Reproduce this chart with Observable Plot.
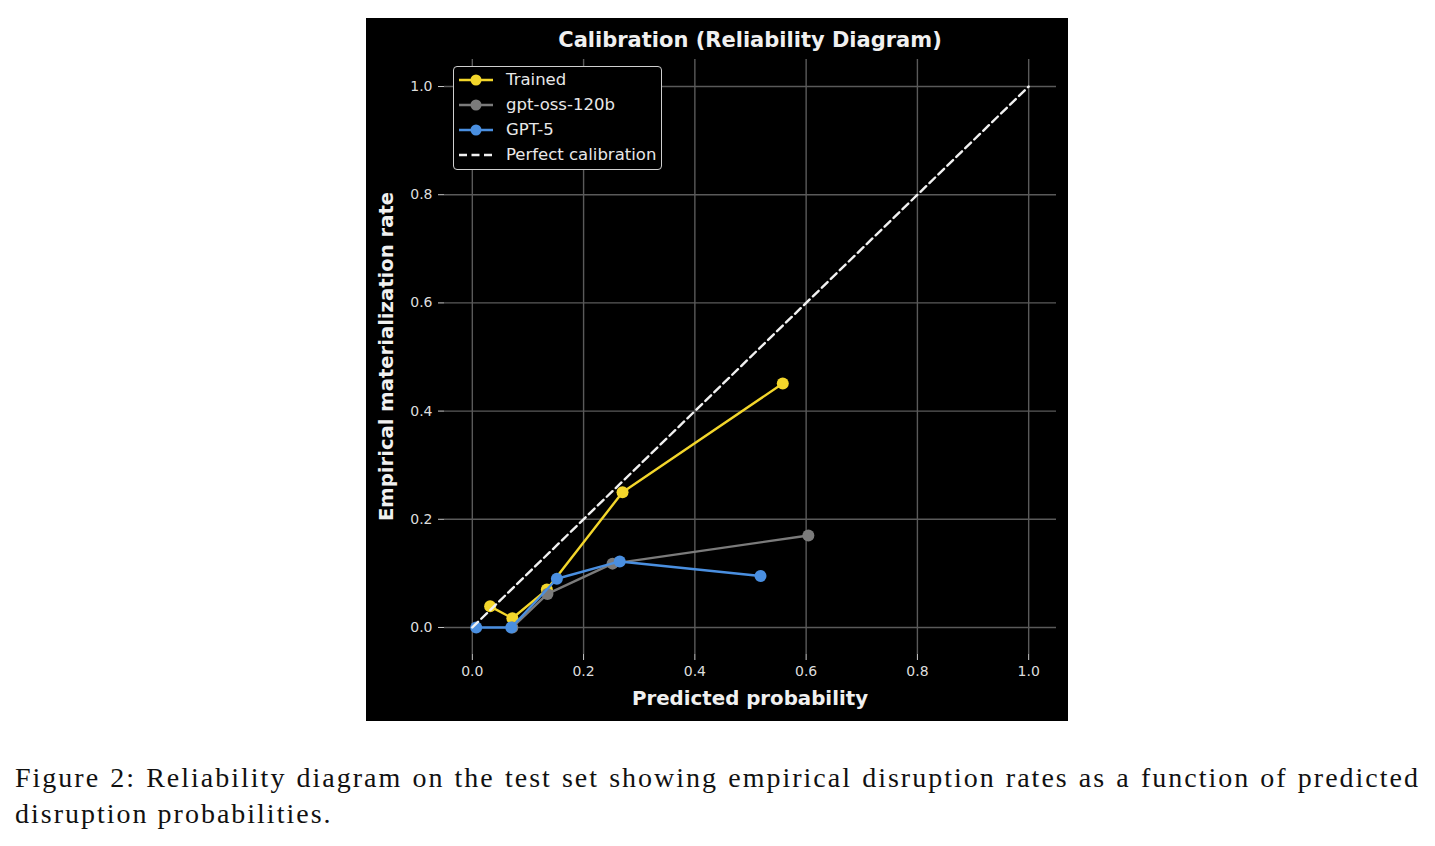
<!DOCTYPE html>
<html>
<head>
<meta charset="utf-8">
<script src="https://cdn.jsdelivr.net/npm/d3@7"></script>
<script src="https://cdn.jsdelivr.net/npm/@observablehq/plot@0.6"></script>
<style>
  html, body { margin: 0; padding: 0; background: #ffffff; }
  #page { position: relative; width: 1435px; height: 846px; }
  #panel { position: absolute; left: 366px; top: 18px; width: 702px; height: 703px; background: #000; }
  #panel svg { display: block; }
  #legend {
    position: absolute; left: 87px; top: 48px;
    width: 209px; height: 104px; box-sizing: border-box;
    border: 1.5px solid #cfcfcf; border-radius: 4px; background: #000;
    font-family: "DejaVu Sans", sans-serif; font-size: 16.5px; color: #e8e8e8;
    padding-top: 0px;
  }
  #legend .row { display: flex; align-items: center; height: 25px; }
  #legend svg { margin-left: 4px; margin-right: 12px; }
  #caption {
    position: absolute; left: 15px; top: 760px; width: 1405px;
    font-family: "Liberation Serif", "DejaVu Serif", serif; font-size: 28px; line-height: 36px;
    letter-spacing: 2px; color: #111;
  }
  #caption .l1 { text-align: justify; text-align-last: justify; white-space: nowrap; }
</style>
</head>
<body>
<div id="page">
  <div id="panel"></div>
  <div id="caption">
    <div class="l1">Figure 2: Reliability diagram on the test set showing empirical disruption rates as a function of predicted</div>
    <div>disruption probabilities.</div>
  </div>
</div>
<script>
// Reliability curves: mean predicted probability vs. observed rate per bin
const trainedX = [0.032, 0.072, 0.134, 0.270, 0.558];
const trainedY = [0.039, 0.017, 0.070, 0.250, 0.451];
const ossX = [0.072, 0.135, 0.252, 0.604];
const ossY = [0.000, 0.062, 0.118, 0.170];
const gpt5X = [0.007, 0.070, 0.152, 0.265, 0.518];
const gpt5Y = [0.000, 0.000, 0.090, 0.122, 0.095];
const perfectX = [0, 1];
const perfectY = [0, 1];
const ticks = [0, 0.2, 0.4, 0.6, 0.8, 1.0];

const seriesNames = ["Trained", "gpt-oss-120b", "GPT-5"];
const seriesColors = ["#f3d62b", "#7b7b7b", "#4a8fe0"];

const toRows = (xs, ys) => xs.map((x, i) => ({x, y: ys[i]}));
const trained = toRows(trainedX, trainedY);
const oss = toRows(ossX, ossY);
const gpt5 = toRows(gpt5X, gpt5Y);
const perfect = toRows(perfectX, perfectY);
const groups = [trained, oss, gpt5];

const fmt = d3.format(".1f");

const chart = Plot.plot({
  width: 702,
  height: 703,
  marginLeft: 78,
  marginRight: 12,
  marginTop: 41,
  marginBottom: 67,
  style: {background: "#000", color: "#dddddd", fontFamily: "DejaVu Sans, sans-serif", fontSize: "14px"},
  x: {domain: [-0.05, 1.05], ticks, tickFormat: fmt},
  y: {domain: [-0.05, 1.05], ticks, tickFormat: fmt},
  marks: [
    Plot.gridX(ticks, {stroke: "#5a5a5a", strokeOpacity: 1, strokeWidth: 1.4}),
    Plot.gridY(ticks, {stroke: "#5a5a5a", strokeOpacity: 1, strokeWidth: 1.4}),
    Plot.axisX(ticks, {tickSize: 6, tickPadding: 6, stroke: "#cccccc", fill: "#dddddd", fontSize: 14, label: null, tickFormat: fmt}),
    Plot.axisY(ticks, {tickSize: 6, tickPadding: 6, stroke: "#cccccc", fill: "#dddddd", fontSize: 14, label: null, tickFormat: fmt}),
    ...groups.flatMap((g, i) => [
      Plot.line(g, {x: "x", y: "y", stroke: seriesColors[i], strokeWidth: 2.4}),
      Plot.dot(g, {x: "x", y: "y", r: 6, fill: seriesColors[i], stroke: "none"})
    ]),
    Plot.line(perfect, {x: "x", y: "y", stroke: "#f0f0f0", strokeWidth: 2.4, strokeDasharray: "8,4.5"})
  ]
});

// Title and axis labels, placed relative to the plot frame
const svg = d3.select(chart);
const cx = 78 + (702 - 78 - 12) / 2;
svg.append("text")
  .attr("x", cx).attr("y", 29)
  .attr("text-anchor", "middle")
  .attr("fill", "#f0f0f0").attr("font-weight", "bold").attr("font-size", 21)
  .attr("font-family", "DejaVu Sans, sans-serif")
  .text("Calibration (Reliability Diagram)");
svg.append("text")
  .attr("x", cx).attr("y", 687)
  .attr("text-anchor", "middle")
  .attr("fill", "#f0f0f0").attr("font-weight", "bold").attr("font-size", 19.8)
  .attr("font-family", "DejaVu Sans, sans-serif")
  .text("Predicted probability");
svg.append("text")
  .attr("transform", `translate(27,${41 + (703 - 41 - 67) / 2}) rotate(-90)`)
  .attr("text-anchor", "middle")
  .attr("fill", "#f0f0f0").attr("font-weight", "bold").attr("font-size", 19.6)
  .attr("font-family", "DejaVu Sans, sans-serif")
  .text("Empirical materialization rate");

const panel = document.getElementById("panel");
panel.appendChild(chart);

// Legend box
const legend = document.createElement("div");
legend.id = "legend";
const entries = seriesNames.map((n, i) => ({name: n, color: seriesColors[i], dashed: false}))
  .concat([{name: "Perfect calibration", color: "#f0f0f0", dashed: true}]);
for (const e of entries) {
  const row = document.createElement("div");
  row.className = "row";
  const sw = d3.create("svg").attr("width", 36).attr("height", 14);
  sw.append("line").attr("x1", 1).attr("x2", 35).attr("y1", 7).attr("y2", 7)
    .attr("stroke", e.color).attr("stroke-width", 2.4)
    .attr("stroke-dasharray", e.dashed ? "8,4.5" : null);
  if (!e.dashed) sw.append("circle").attr("cx", 18).attr("cy", 7).attr("r", 5.5).attr("fill", e.color);
  row.appendChild(sw.node());
  const label = document.createElement("span");
  label.textContent = e.name;
  row.appendChild(label);
  legend.appendChild(row);
}
panel.appendChild(legend);
</script>
</body>
</html>
